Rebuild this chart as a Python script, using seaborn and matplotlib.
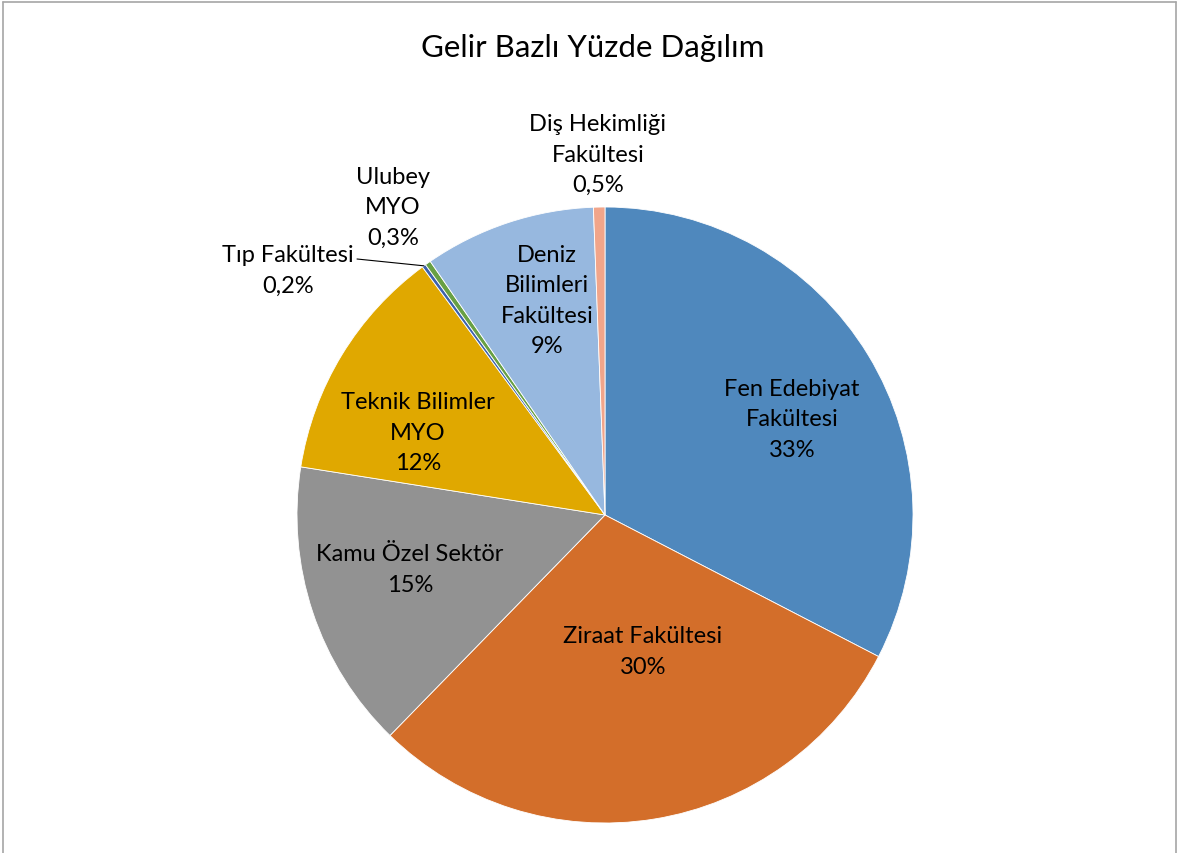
import matplotlib
matplotlib.use("Agg")
import matplotlib.pyplot as plt
import seaborn as sns
import numpy as np
from matplotlib.lines import Line2D

# ---- data ----
categories = ["Fen Edebiyat\nFakültesi", "Ziraat Fakültesi", "Kamu Özel Sektör",
              "Teknik Bilimler\nMYO", "Tıp Fakültesi", "Ulubey\nMYO",
              "Deniz\nBilimleri\nFakültesi", "Diş Hekimliği\nFakültesi"]
values = [32.6, 29.7, 15.2, 12.4, 0.2, 0.3, 9.0, 0.6]
pct_labels = ["33%", "30%", "15%", "12%", "0,2%", "0,3%", "9%", "0,5%"]
colors = ["#4F88BD", "#D36E2A", "#929292", "#E0A800",
          "#3D62AC", "#68A044", "#97B8DF", "#F1A58A"]

# label layout (in pie-radius units)
label_pos = [(0.607, 0.312), (0.123, -0.442), (-0.633, -0.175), (-0.607, 0.269),
             (-1.029, 0.795), (-0.688, 1.0), (-0.188, 0.698), (-0.023, 1.172)]
leader = [False, False, False, False, True, False, False, False]

sns.set_theme(style="white")
plt.rcParams['font.family'] = ['Lato', 'DejaVu Sans']

W, H = 1180, 854
fig = plt.figure(figsize=(W / 100, H / 100), dpi=100)
fig.patch.set_facecolor("white")

cx, cy, R = 605, 516, 308
ax = fig.add_axes([(cx - R) / W, (H - cy - R) / H, 2 * R / W, 2 * R / H])
wedges, _ = ax.pie(values, colors=colors, startangle=90, counterclock=False,
                   radius=1.0, wedgeprops=dict(edgecolor="white", linewidth=0.6))
ax.set_xlim(-1, 1)
ax.set_ylim(-1, 1)
ax.set_aspect("equal")
ax.axis("off")

for w, cat, pct, pos, ld in zip(wedges, categories, pct_labels, label_pos, leader):
    ax.text(pos[0], pos[1], f"{cat}\n{pct}", ha="center", va="center",
            fontsize=17, color="#000000", linespacing=1.55, clip_on=False)
    if ld:
        mid = np.deg2rad((w.theta1 + w.theta2) / 2)
        ex, ey = np.cos(mid), np.sin(mid)
        ax.add_line(Line2D([(357 - cx) / R, ex], [(cy - 260) / R, ey], color="black",
                           linewidth=0.8, clip_on=False))

fig.text(593 / W, 1 - 48 / H, "Gelir Bazlı Yüzde Dağılım", ha="center", va="center",
         fontsize=22.5, color="#000000")

# chart frame
bc = "#A6A6A6"
x0, x1, yt = 3 / W, 1176 / W, 1 - 3 / H
fig.add_artist(Line2D([x0, x0], [0, yt], color=bc, linewidth=1.2))
fig.add_artist(Line2D([x0, x1], [yt, yt], color=bc, linewidth=1.2))
fig.add_artist(Line2D([x1, x1], [0, yt], color=bc, linewidth=1.2))

fig.savefig("out.png", dpi=100, facecolor="white")
